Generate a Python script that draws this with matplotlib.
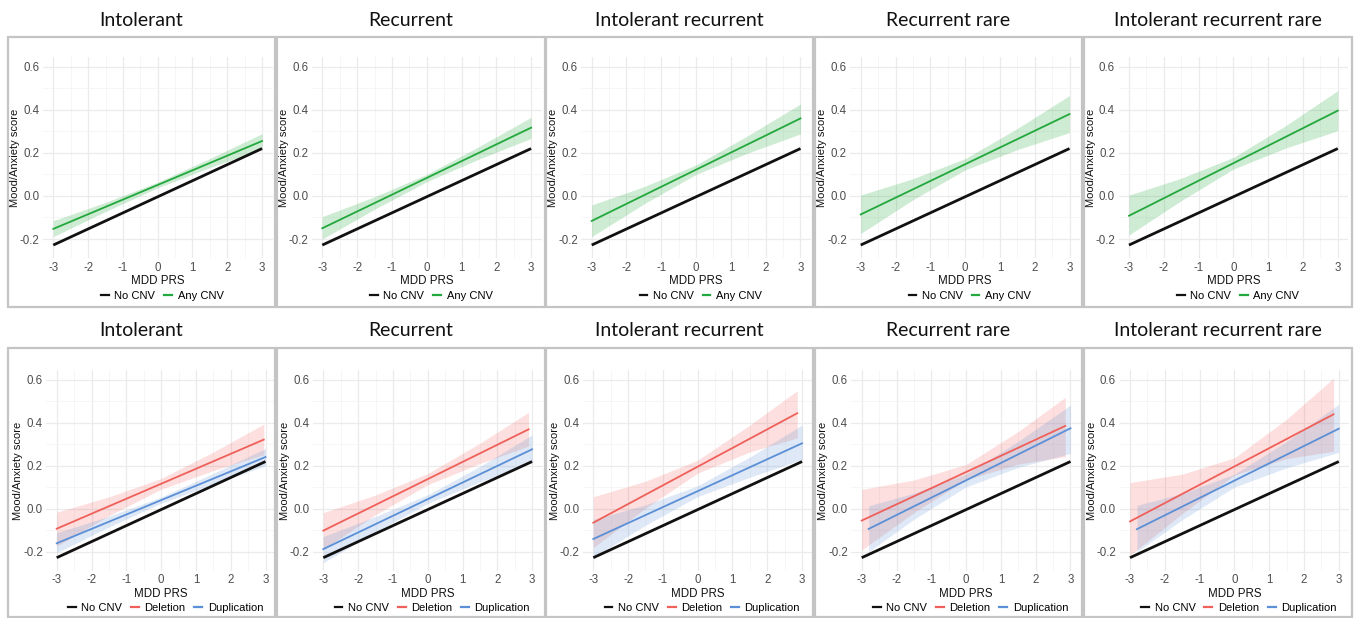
import matplotlib
matplotlib.use("Agg")
import matplotlib.pyplot as plt
from matplotlib.lines import Line2D
from matplotlib.patches import Rectangle

W, H = 1354, 618

titles = ["Intolerant", "Recurrent", "Intolerant recurrent", "Recurrent rare",
          "Intolerant recurrent rare"]

x_ticks = [-3, -2, -1, 0, 1, 2, 3]
y_ticks = [-0.2, 0.0, 0.2, 0.4, 0.6]
y_tick_labels = ["-0.2", "0.0", "0.2", "0.4", "0.6"]

# No CNV reference line (same in every panel)
nocnv_x = [-3, 3]
nocnv_y = [-0.228, 0.220]

# inner points where the confidence bands were read
band_mid = [-1.5, 0, 1.5]

# top row: any CNV
any_x = [-3, 3]
any_y = [[-0.153, 0.255], [-0.150, 0.317], [-0.116, 0.360], [-0.086, 0.380], [-0.092, 0.396]]
any_lo = [[-0.189, -0.072, 0.038, 0.132, 0.219],
          [-0.200, -0.062, 0.066, 0.171, 0.267],
          [-0.189, -0.037, 0.100, 0.200, 0.288],
          [-0.174, -0.018, 0.121, 0.215, 0.294],
          [-0.181, -0.022, 0.125, 0.222, 0.303]]
any_hi = [[-0.115, -0.030, 0.064, 0.174, 0.289],
          [-0.096, -0.004, 0.100, 0.229, 0.365],
          [-0.042, 0.043, 0.144, 0.281, 0.427],
          [0.004, 0.080, 0.173, 0.313, 0.466],
          [0.004, 0.082, 0.179, 0.326, 0.489]]

# bottom row: deletion / duplication
del_x = [[-3, 2.95], [-3, 2.9], [-3, 2.86], [-3, 2.85], [-3, 2.85]]
del_y = [[-0.093, 0.322], [-0.102, 0.370], [-0.065, 0.445], [-0.055, 0.386], [-0.059, 0.440]]
del_lo = [[-0.174, -0.032, 0.091, 0.178, 0.252],
          [-0.189, -0.028, 0.112, 0.211, 0.292],
          [-0.181, 0.003, 0.166, 0.265, 0.330],
          [-0.192, -0.018, 0.136, 0.208, 0.243],
          [-0.216, -0.023, 0.157, 0.234, 0.268]]
del_hi = [[-0.016, 0.055, 0.141, 0.264, 0.394],
          [-0.018, 0.064, 0.164, 0.305, 0.449],
          [0.056, 0.128, 0.226, 0.390, 0.550],
          [0.090, 0.134, 0.206, 0.360, 0.519],
          [0.122, 0.161, 0.237, 0.417, 0.608]]

dup_x = [[-3, 3], [-3, 3], [-3, 3], [-2.8, 3], [-2.8, 3]]
dup_y = [[-0.161, 0.241], [-0.188, 0.277], [-0.141, 0.305], [-0.094, 0.375], [-0.095, 0.373]]
dup_lo = [[-0.205, -0.085, 0.026, 0.115, 0.200],
          [-0.251, -0.108, 0.025, 0.125, 0.215],
          [-0.226, -0.077, 0.057, 0.147, 0.230],
          [-0.200, -0.049, 0.102, 0.193, 0.258],
          [-0.200, -0.051, 0.101, 0.191, 0.263]]
dup_hi = [[-0.112, -0.035, 0.054, 0.165, 0.281],
          [-0.130, -0.036, 0.065, 0.197, 0.344],
          [-0.050, 0.018, 0.107, 0.241, 0.390],
          [0.014, 0.072, 0.162, 0.314, 0.483],
          [0.016, 0.071, 0.161, 0.313, 0.487]]

GREEN = "#22a83c"
RED = "#f0605a"
BLUE = "#5b8fd6"
BLACK = "#111111"

plt.rcParams["font.family"] = ["Liberation Sans", "DejaVu Sans"]

fig = plt.figure(figsize=(W / 100, H / 100), dpi=100)

px_unit = 34.8
row_x0 = [[53.3, 322.3, 591.7, 860.7, 1129.0],
          [56.7, 323.3, 593.3, 861.7, 1130.0]]
row_ax_top = [57.0, 370.3]
row_ax_bot = [258.4, 571.0]
row_box = [(37, 307), (348, 617)]
box_x = [(8, 275), (277, 545), (546, 813), (815, 1082), (1084, 1352)]
title_y = [21, 331]


def band_points(xs):
    return [xs[0]] + band_mid + [xs[1]]


for r in range(2):
    for c in range(5):
        # panel frame
        bx0, bx1 = box_x[c]
        by0, by1 = row_box[r]
        fig.patches.append(Rectangle((bx0 / W, 1 - by1 / H), (bx1 - bx0) / W, (by1 - by0) / H,
                                     transform=fig.transFigure, fill=False,
                                     edgecolor="#c4c4c4", linewidth=1.6))
        fig.text((bx0 + bx1) / 2 / W, 1 - title_y[r] / H, titles[c], ha="center", va="center",
                 fontsize=14, family=["Lato", "DejaVu Sans"], color="#111111")

        left = row_x0[r][c] - 0.3 * px_unit
        width = 6.6 * px_unit
        top = row_ax_top[r]
        bot = row_ax_bot[r]
        ax = fig.add_axes([left / W, 1 - bot / H, width / W, (bot - top) / H])
        ax.set_xlim(-3.3, 3.3)
        ax.set_ylim(-0.29, 0.645)
        ax.set_xticks(x_ticks)
        ax.set_xticklabels([str(t) for t in x_ticks])
        ax.set_yticks(y_ticks)
        ax.set_yticklabels(y_tick_labels)
        ax.set_xticks([-2.5, -1.5, -0.5, 0.5, 1.5, 2.5], minor=True)
        ax.set_yticks([-0.1, 0.1, 0.3, 0.5], minor=True)
        ax.grid(which="major", color="#ebebeb", linewidth=0.9)
        ax.grid(which="minor", color="#f3f3f3", linewidth=0.5)
        ax.set_axisbelow(True)
        ax.tick_params(which="both", length=0, labelsize=8.3, colors="#4d4d4d", pad=2.5)
        for s in ax.spines.values():
            s.set_visible(False)
        ax.set_xlabel("MDD PRS", fontsize=8.3, color="#111111", labelpad=1)
        ax.set_ylabel("Mood/Anxiety score", fontsize=8, color="#111111")
        ax.yaxis.set_label_coords(-0.10, 0.5)

        ax.plot(nocnv_x, nocnv_y, color=BLACK, linewidth=2.0, solid_capstyle="butt", zorder=3)
        handles = [Line2D([], [], color=BLACK, linewidth=1.6)]
        labels = ["No CNV"]
        if r == 0:
            ax.fill_between(band_points(any_x), any_lo[c], any_hi[c], color=GREEN,
                            alpha=0.22, linewidth=0, zorder=2)
            ax.plot(any_x, any_y[c], color=GREEN, linewidth=1.3, zorder=4)
            handles.append(Line2D([], [], color=GREEN, linewidth=1.6))
            labels.append("Any CNV")
        else:
            ax.fill_between(band_points(del_x[c]), del_lo[c], del_hi[c], color=RED,
                            alpha=0.2, linewidth=0, zorder=2)
            ax.fill_between(band_points(dup_x[c]), dup_lo[c], dup_hi[c], color=BLUE,
                            alpha=0.2, linewidth=0, zorder=2)
            ax.plot(del_x[c], del_y[c], color=RED, linewidth=1.3, zorder=4)
            ax.plot(dup_x[c], dup_y[c], color=BLUE, linewidth=1.3, zorder=4)
            handles += [Line2D([], [], color=RED, linewidth=1.6),
                        Line2D([], [], color=BLUE, linewidth=1.6)]
            labels += ["Deletion", "Duplication"]

        leg_y = (bot - (296 if r == 0 else 608)) / (bot - top)
        ax.legend(handles, labels, loc="center", bbox_to_anchor=(0.52, leg_y), ncol=len(labels),
                  frameon=False, fontsize=8, handlelength=0.7, handletextpad=0.5,
                  columnspacing=0.8, borderaxespad=0)

fig.savefig("out.png", dpi=100, facecolor="white")
